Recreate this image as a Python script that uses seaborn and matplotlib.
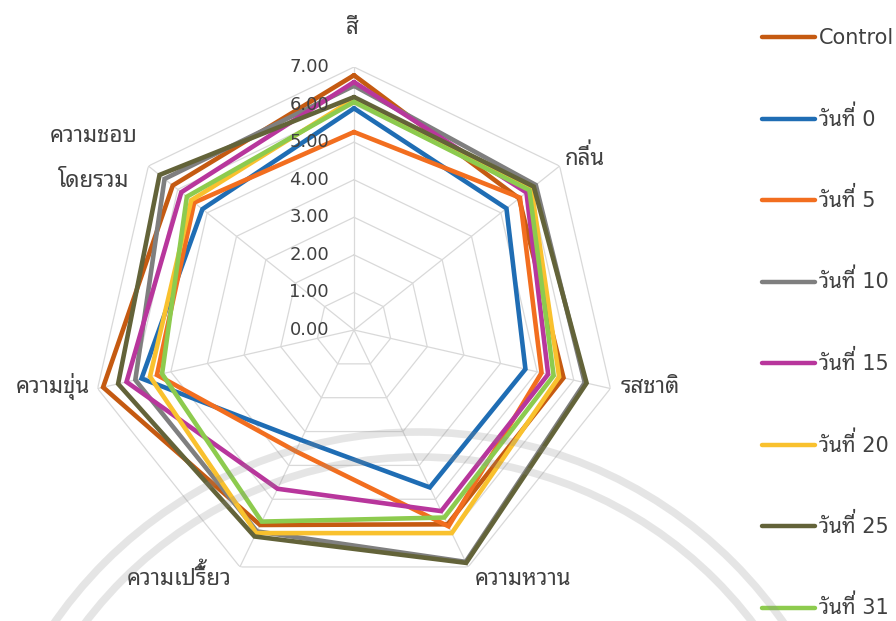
import numpy as np
import pandas as pd
import matplotlib
matplotlib.use("Agg")
import matplotlib.pyplot as plt
from matplotlib import font_manager, transforms
from matplotlib.font_manager import FontProperties
from matplotlib.ft2font import FT2Font
from matplotlib.lines import Line2D
from matplotlib.patches import Circle, PathPatch
from matplotlib.textpath import TextPath
import seaborn as sns

# ---- data -------------------------------------------------------------
categories = ["สี", "กลิ่น", "รสชาติ", "ความหวาน", "ความเปรี้ยว", "ความขุ่น", "ความชอบ\nโดยรวม"]
series_names = ["Control", "วันที่ 0", "วันที่ 5", "วันที่ 10",
                "วันที่ 15", "วันที่ 20", "วันที่ 25", "วันที่ 31"]

control = [6.78, 5.62, 5.72, 5.74, 5.76, 6.85, 6.17]
day_0 = [5.90, 5.19, 4.68, 4.65, 3.25, 5.80, 5.16]
day_5 = [5.27, 5.65, 5.12, 5.80, 3.58, 5.38, 5.44]
day_10 = [6.50, 6.19, 6.30, 6.85, 5.95, 5.97, 6.45]
day_15 = [6.60, 5.87, 5.30, 5.35, 4.69, 6.21, 5.88]
day_20 = [6.15, 6.04, 5.60, 6.00, 6.00, 5.57, 5.54]
day_25 = [6.20, 6.12, 6.35, 6.88, 6.10, 6.44, 6.62]
day_31 = [6.07, 5.97, 5.45, 5.54, 5.66, 5.24, 5.69]

tick_values = [0, 1, 2, 3, 4, 5, 6, 7]

colors = ["#C55A11", "#1F6DB4", "#F26E1F", "#7F7F7F",
          "#B8369C", "#F9C12E", "#636339", "#8DCB4E"]


# ---- fonts ------------------------------------------------------------
def thai_family():
    preferred = ["Noto Sans Thai Looped", "Loma", "Garuda", "Noto Sans Thai",
                 "Umpush", "Waree", "Sawasdee", "Laksaman", "Kinnari", "Norasi"]
    found = {}
    for entry in font_manager.fontManager.ttflist:
        try:
            cmap = FT2Font(entry.fname).get_charmap()
        except Exception:
            continue
        if 0x0E04 in cmap and 0x0E48 in cmap:
            found.setdefault(entry.name, entry)
    for name in preferred:
        if name in found:
            return name
    names = sorted(n for n in found if "Mono" not in n)
    return names[0] if names else "DejaVu Sans"


sns.set_theme(style="white")
THAI = thai_family()
LABEL_FAMILY = [THAI, "DejaVu Sans"]
LEGEND_FAMILY = ["DejaVu Sans", THAI]
plt.rcParams["font.family"] = LABEL_FAMILY
TEXT_COLOR = "#404040"

# ---- long table for seaborn ---------------------------------------------
all_values = [control, day_0, day_5, day_10, day_15, day_20, day_25, day_31]
n = len(categories)
angles = np.arange(n + 1) * 2 * np.pi / n
rows = []
for name, vals in zip(series_names, all_values):
    closed = list(vals) + [vals[0]]
    for k, v in enumerate(closed):
        rows.append({"series": name, "angle": angles[k], "score": v})
df = pd.DataFrame(rows)
palette = dict(zip(series_names, colors))

# ---- figure -------------------------------------------------------------
W, H = 896, 621
DPI = 100
fig = plt.figure(figsize=(W / DPI, H / DPI), dpi=DPI)
fig.patch.set_facecolor("white")
renderer = fig.canvas.get_renderer()
PIX = transforms.IdentityTransform()

cx, cy, R = 354, 330, 263
ax = fig.add_axes([(cx - R) / W, (H - cy - R) / H, 2 * R / W, 2 * R / H],
                  projection="polar")
ax.set_theta_zero_location("N")
ax.set_theta_direction(-1)
ax.set_ylim(0, 7)
ax.grid(False)
ax.spines["polar"].set_visible(False)
ax.set_facecolor("none")

# heptagonal grid rings and spokes
for t in tick_values[1:]:
    ax.plot(angles, [t] * (n + 1), color="#D9D9D9", lw=0.9, zorder=1)
for a in angles[:-1]:
    ax.plot([a, a], [0, tick_values[-1]], color="#D9D9D9", lw=0.9, zorder=1)

sns.lineplot(data=df, x="angle", y="score", hue="series", hue_order=series_names,
             palette=palette, sort=False, estimator=None, linewidth=3.3,
             legend=False, ax=ax, solid_joinstyle="miter", zorder=3)
ax.set_xlabel("")
ax.set_ylabel("")
ax.set_xticks([])
ax.set_yticks([])
ax.set_ylim(0, 7)

# radial value labels along the top spoke
off = transforms.offset_copy(ax.transData, fig=fig, x=-25, y=0, units="dots")
for v in tick_values:
    ax.text(0, v, f"{v:.2f}", transform=off, ha="right", va="center",
            fontsize=13, color=TEXT_COLOR, family=["DejaVu Sans"])

# ---- Thai text; tone marks on an upper vowel are re-inked higher ---------
UPPER_VOWELS = set("\u0e31\u0e34\u0e35\u0e36\u0e37\u0e47")
TONE_MARKS = set("\u0e48\u0e49\u0e4a\u0e4b\u0e4c")


def ink_width(s, prop):
    return renderer.get_text_width_height_descent(s, prop, ismath=False)[0]


def thai_text(x, y_top, s, ha="left", size=16, family=LABEL_FAMILY):
    """Write s with its baseline at pixel row y_top (counted from the top)."""
    prop = FontProperties(family=family, size=size)
    y = H - y_top
    t = fig.text(x, y, s, ha=ha, va="baseline", fontproperties=prop,
                 color=TEXT_COLOR, transform=PIX)
    stacked = [i for i, ch in enumerate(s)
               if ch in TONE_MARKS and i > 1 and s[i - 1] in UPPER_VOWELS]
    if not stacked:
        return
    x0 = t.get_window_extent(renderer).x0
    lift = 0.30 * size * DPI / 72
    mark_prop = FontProperties(family=[THAI], size=size)
    for i in stacked:
        right = x0 + ink_width(s[:i - 1], prop)
        glyph = TextPath((0, 0), s[i], prop=mark_prop)
        gx1 = glyph.get_extents().x1 * DPI / 72
        tr = transforms.Affine2D().scale(DPI / 72).translate(right - 0.5 - gx1, y + lift)
        fig.add_artist(PathPatch(glyph, transform=tr, facecolor=TEXT_COLOR,
                                 edgecolor="none", lw=0))


# category labels around the outer ring: (dx, baseline offset, alignment)
label_place = [(-2, -33, "center"), (5, -1, "left"), (10, 4, "left"),
               (7, 18, "left"), (-8, 18, "right"), (-8, 4, "right"),
               (-55, -24, "center")]
for k, (lab, (dx, dy, ha)) in enumerate(zip(categories, label_place)):
    vx, vy = ax.transData.transform((angles[k], tick_values[-1]))
    vy_top = H - vy
    for j, line in enumerate(lab.split("\n")):
        thai_text(vx + dx, vy_top + dy + 45 * j, line, ha=ha, size=16)

# legend column on the right
for i, (name, col) in enumerate(zip(series_names, colors)):
    y_line = 37 + 81.5 * i
    fig.add_artist(Line2D([762, 815], [H - y_line, H - y_line], transform=PIX,
                          color=col, lw=3.2, solid_capstyle="round"))
    thai_text(819, y_line + 7, name, ha="left", size=15, family=LEGEND_FAMILY)

# faint emblem arcs across the lower part
over = fig.add_axes([0, 0, 1, 1], zorder=10)
over.set_xlim(0, W)
over.set_ylim(H, 0)
over.axis("off")
over.patch.set_alpha(0)
for rad in (444, 419):
    over.add_patch(Circle((419, 876), rad, fill=False, lw=5.5,
                          edgecolor="#8c8c8c", alpha=0.22))

fig.savefig("out.png", dpi=DPI, facecolor="white")
